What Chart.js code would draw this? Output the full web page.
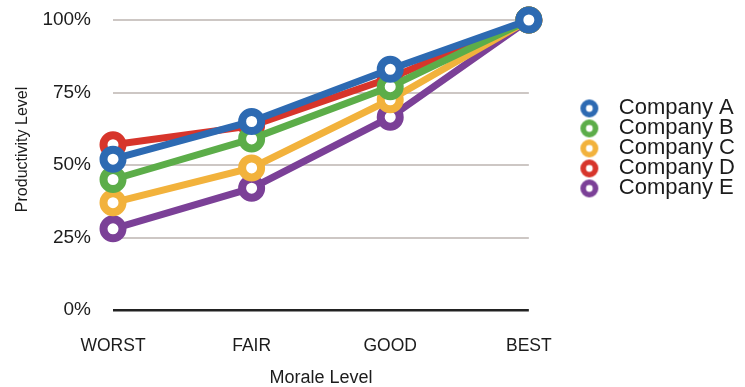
<!DOCTYPE html>
<html>
<head>
<meta charset="utf-8">
<script src="https://cdn.jsdelivr.net/npm/chart.js@4.4.1/dist/chart.umd.min.js"></script>
<style>
  html, body { margin: 0; padding: 0; background: #fff; }
  #wrap { width: 745px; height: 387px; }
</style>
</head>
<body>
<div id="wrap"><canvas id="moraleChart"></canvas></div>
<script>
    // data
    var levels = ["WORST", "FAIR", "GOOD", "BEST"];
    var companyA = [52, 65, 83, 100];
    var companyB = [45, 59, 77, 100];
    var companyC = [37, 49, 72.5, 100];
    var companyD = [57, 63.5, 80, 100];
    var companyE = [28, 42, 66.5, 100];
    var names = ["Company A", "Company B", "Company C", "Company D", "Company E"];
    var colors = ["#2d6ab2", "#5cad49", "#f2b23c", "#d7352b", "#7b4097"];

    Chart.defaults.font.family = "'Liberation Sans', Arial, sans-serif";
    Chart.defaults.color = "#1c1c1c";

    // ring marker for the legend, drawn right of centre so the text gap matches
    function legendRing(color) {
        var c = document.createElement('canvas');
        c.width = 66;
        c.height = 22;
        var g = c.getContext('2d');
        g.beginPath();
        g.arc(55, 11, 6.2, 0, Math.PI * 2);
        g.fillStyle = '#fff';
        g.fill();
        g.lineWidth = 5.6;
        g.strokeStyle = color;
        g.stroke();
        return c;
    }

    function makeSet(i, values) {
        return {
            label: names[i],
            data: values,
            borderColor: colors[i],
            backgroundColor: '#fff',
            borderWidth: 7,
            pointRadius: 9.5,
            pointHoverRadius: 9.5,
            pointBorderWidth: 8,
            pointBackgroundColor: '#fff',
            pointBorderColor: colors[i],
            tension: 0,
            clip: false
        };
    }

    var ctxL = document.getElementById("moraleChart").getContext('2d');
    var myLineChart = new Chart(ctxL, {
        type: 'line',
        data: {
            labels: levels,
            datasets: [
                makeSet(0, companyA),
                makeSet(1, companyB),
                makeSet(2, companyC),
                makeSet(3, companyD),
                makeSet(4, companyE)
            ]
        },
        options: {
            responsive: true,
            maintainAspectRatio: false,
            animation: false,
            layout: {
                padding: { top: 20, right: 0, bottom: 0, left: 0 }
            },
            plugins: {
                tooltip: { enabled: false },
                legend: {
                    position: 'right',
                    align: 'start',
                    maxWidth: 260,
                    title: {
                        display: true,
                        text: '',
                        font: { size: 12, lineHeight: 1.2 },
                        padding: { top: 65, bottom: 0 }
                    },
                    labels: {
                        usePointStyle: true,
                        pointStyleWidth: 81,
                        boxHeight: 22,
                        padding: -2,
                        color: '#1c1c1c',
                        font: { size: 22 },
                        generateLabels: function (chart) {
                            var items = Chart.defaults.plugins.legend.labels.generateLabels(chart);
                            items.forEach(function (it, i) {
                                it.pointStyle = legendRing(colors[i]);
                            });
                            return items;
                        }
                    }
                }
            },
            scales: {
                x: {
                    offset: false,
                    grid: { display: false, drawTicks: false },
                    border: { display: false },
                    ticks: {
                        padding: 26,
                        color: '#1c1c1c',
                        font: { size: 17.5 }
                    },
                    title: {
                        display: true,
                        text: 'Morale Level',
                        color: '#1c1c1c',
                        font: { size: 18, lineHeight: 1 },
                        padding: { top: 8, bottom: 0 }
                    },
                    afterFit: function (scale) { scale.height = 77; }
                },
                y: {
                    min: 0,
                    max: 100,
                    grid: {
                        drawTicks: false,
                        lineWidth: function (c) { return c.tick && c.tick.value === 0 ? 2.5 : 2; },
                        color: function (c) { return c.tick && c.tick.value === 0 ? '#222222' : '#cdc7c4'; }
                    },
                    border: { display: false },
                    ticks: {
                        stepSize: 25,
                        padding: 22,
                        color: '#1c1c1c',
                        font: { size: 19 },
                        callback: function (v) { return v + '%'; }
                    },
                    title: {
                        display: true,
                        // leading spaces lift the title a little above the axis middle, as in the original
                        text: '       Productivity Level',
                        color: '#1c1c1c',
                        font: { size: 16 },
                        padding: { top: 13, bottom: 10 }
                    },
                    afterFit: function (scale) {
                        scale.width = 113;
                        scale.paddingTop = 0;
                        scale.paddingBottom = 0;
                    }
                }
            }
        }
    });
</script>
</body>
</html>
